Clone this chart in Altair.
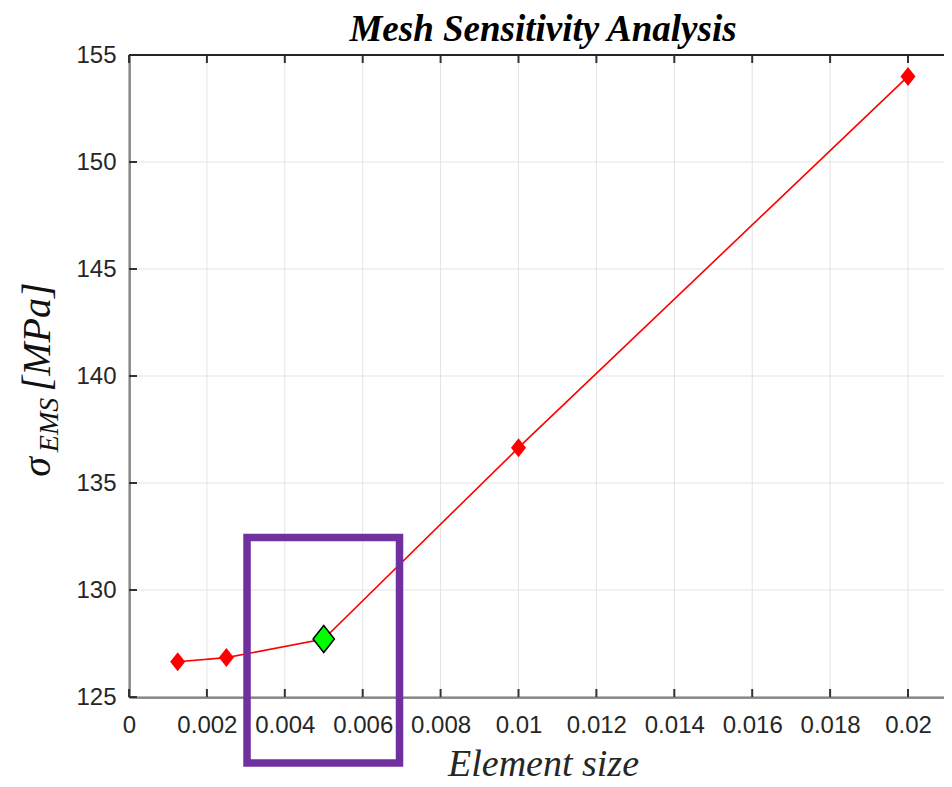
import altair as alt
import pandas as pd

# ---- data ----
element_size = [0.00125, 0.0025, 0.005, 0.01, 0.02]
stress_mpa = [126.65, 126.84, 127.71, 136.65, 154.0]
selected = ["no", "no", "yes", "no", "no"]

x_ticks = [0.0, 0.002, 0.004, 0.006, 0.008, 0.01, 0.012, 0.014, 0.016, 0.018, 0.02]
y_ticks = [125, 130, 135, 140, 145, 150, 155]

# highlight box (data coordinates)
box_x = [0.00303, 0.006945]
box_y = [121.92, 132.45]

title_text = ["Mesh Sensitivity Analysis"]
x_title = "Element size"
y_title_parts = ["σ", "EMS", "[MPa]"]

# ---- layout ----
W, H = 815, 642
X_MAX = 0.020924
TICK = 8

df = pd.DataFrame({"size": element_size, "stress": stress_mpa, "sel": selected})
xt = pd.DataFrame({"xt": x_ticks})
yt = pd.DataFrame({"yt": y_ticks})
box = pd.DataFrame({"x1": [box_x[0]], "x2": [box_x[1]], "y1": [box_y[0]], "y2": [box_y[1]]})

xscale = alt.Scale(domain=[0, X_MAX], nice=False, zero=False)
yscale = alt.Scale(domain=[125, 155], nice=False, zero=False)

AX = "#262626"
GRID = "#e3e3e3"
LABEL_FONT = "Liberation Sans"
SERIF = "Liberation Serif"

x_axis = alt.Axis(
    values=x_ticks, format="~g", grid=False,
    ticks=False, tickSize=0, labelPadding=16, labelFont=LABEL_FONT, labelFontSize=24,
    labelColor=AX, domainColor=AX, domainWidth=2, title=x_title,
    titleFont=SERIF, titleFontSize=38, titleFontStyle="italic", titleFontWeight="normal",
    titleColor=AX, titlePadding=8, titleX=414, labelFlush=False,
)
y_axis = alt.Axis(
    values=y_ticks, grid=False,
    ticks=False, tickSize=0, labelPadding=13, labelFont=LABEL_FONT, labelFontSize=24,
    labelColor=AX, domainColor=AX, domainWidth=2, title="",
)

X = lambda f: alt.X(f, scale=xscale, axis=x_axis)
Y = lambda f: alt.Y(f, scale=yscale, axis=y_axis)

# grid lines (drawn first)
x_grid = alt.Chart(xt).mark_rule(color=GRID, strokeWidth=1).encode(
    x=X("xt:Q"), y=alt.value(0), y2=alt.value(H)
)
y_grid = alt.Chart(yt).mark_rule(color=GRID, strokeWidth=1).encode(
    y=Y("yt:Q"), x=alt.value(0), x2=alt.value(W)
)

base = alt.Chart(df)

line = base.mark_line(color="#FF0000", strokeWidth=1.6).encode(
    x=X("size:Q"), y=Y("stress:Q")
)

DIAMOND = "M-0.79,0L0,-1L0.79,0L0,1Z"

red_pts = base.transform_filter(alt.datum.sel == "no").mark_point(
    shape=DIAMOND, filled=True, size=361, color="#FF0000", opacity=1
).encode(x=X("size:Q"), y=Y("stress:Q"))

green_pt = base.transform_filter(alt.datum.sel == "yes").mark_point(
    shape=DIAMOND, filled=True, size=729, fill="#00FF00", stroke="#000000",
    strokeWidth=1.5, opacity=1
).encode(x=X("size:Q"), y=Y("stress:Q"))

# inward ticks (MATLAB style)
x_ticks_bottom = alt.Chart(xt).mark_rule(color="#333333", strokeWidth=2).encode(
    x=X("xt:Q"), y=alt.value(H - TICK), y2=alt.value(H)
)
x_ticks_top = alt.Chart(xt).mark_rule(color="#333333", strokeWidth=2).encode(
    x=X("xt:Q"), y=alt.value(0), y2=alt.value(TICK)
)
y_ticks_left = alt.Chart(yt).mark_rule(color="#333333", strokeWidth=2).encode(
    y=Y("yt:Q"), x=alt.value(0), x2=alt.value(TICK)
)
top_border = alt.Chart(xt).mark_rule(color=AX, strokeWidth=2).encode(
    x=alt.value(0), x2=alt.value(W), y=alt.value(0)
)

box_rect = alt.Chart(box).mark_rect(
    fillOpacity=0, stroke="#7030A0", strokeWidth=7.5, clip=False
).encode(
    x=X("x1:Q"), x2="x2:Q",
    y=Y("y1:Q"), y2="y2:Q",
)

# y-axis title built from parts (subscript)
yt_df = pd.DataFrame({"part": y_title_parts})
sigma = alt.Chart(yt_df).transform_filter(alt.datum.part == y_title_parts[0]).mark_text(
    font=SERIF, fontSize=40, fontStyle="italic", angle=270, align="center",
    baseline="alphabetic", color="#111111"
).encode(text="part:N", x=alt.value(-79), y=alt.value(412))
sub = alt.Chart(yt_df).transform_filter(alt.datum.part == y_title_parts[1]).mark_text(
    font=SERIF, fontSize=28, fontStyle="italic", angle=270, align="center",
    baseline="alphabetic", color="#111111"
).encode(text="part:N", x=alt.value(-71), y=alt.value(370))
unit = alt.Chart(yt_df).transform_filter(alt.datum.part == y_title_parts[2]).mark_text(
    font=SERIF, fontSize=40, fontStyle="italic", angle=270, align="center",
    baseline="alphabetic", color="#111111"
).encode(text="part:N", x=alt.value(-79), y=alt.value(282))

title = alt.Chart(pd.DataFrame({"ttl": title_text})).mark_text(
    font=SERIF, fontSize=37, fontStyle="italic", fontWeight="bold", align="center",
    baseline="alphabetic", color="#000000"
).encode(text="ttl:N", x=alt.value(414), y=alt.value(-14))

chart = alt.layer(
    x_grid, y_grid, line, red_pts, green_pt,
    x_ticks_bottom, x_ticks_top, y_ticks_left, top_border,
    box_rect, sigma, sub, unit, title,
).properties(
    width=W, height=H,
    padding={"left": 121, "top": 47, "right": 0, "bottom": 86},
    autosize=alt.AutoSizeParams(type="none"),
    background="white",
).configure_view(strokeWidth=0)

chart.save("out.html", embed_options={"renderer": "svg", "actions": False})
